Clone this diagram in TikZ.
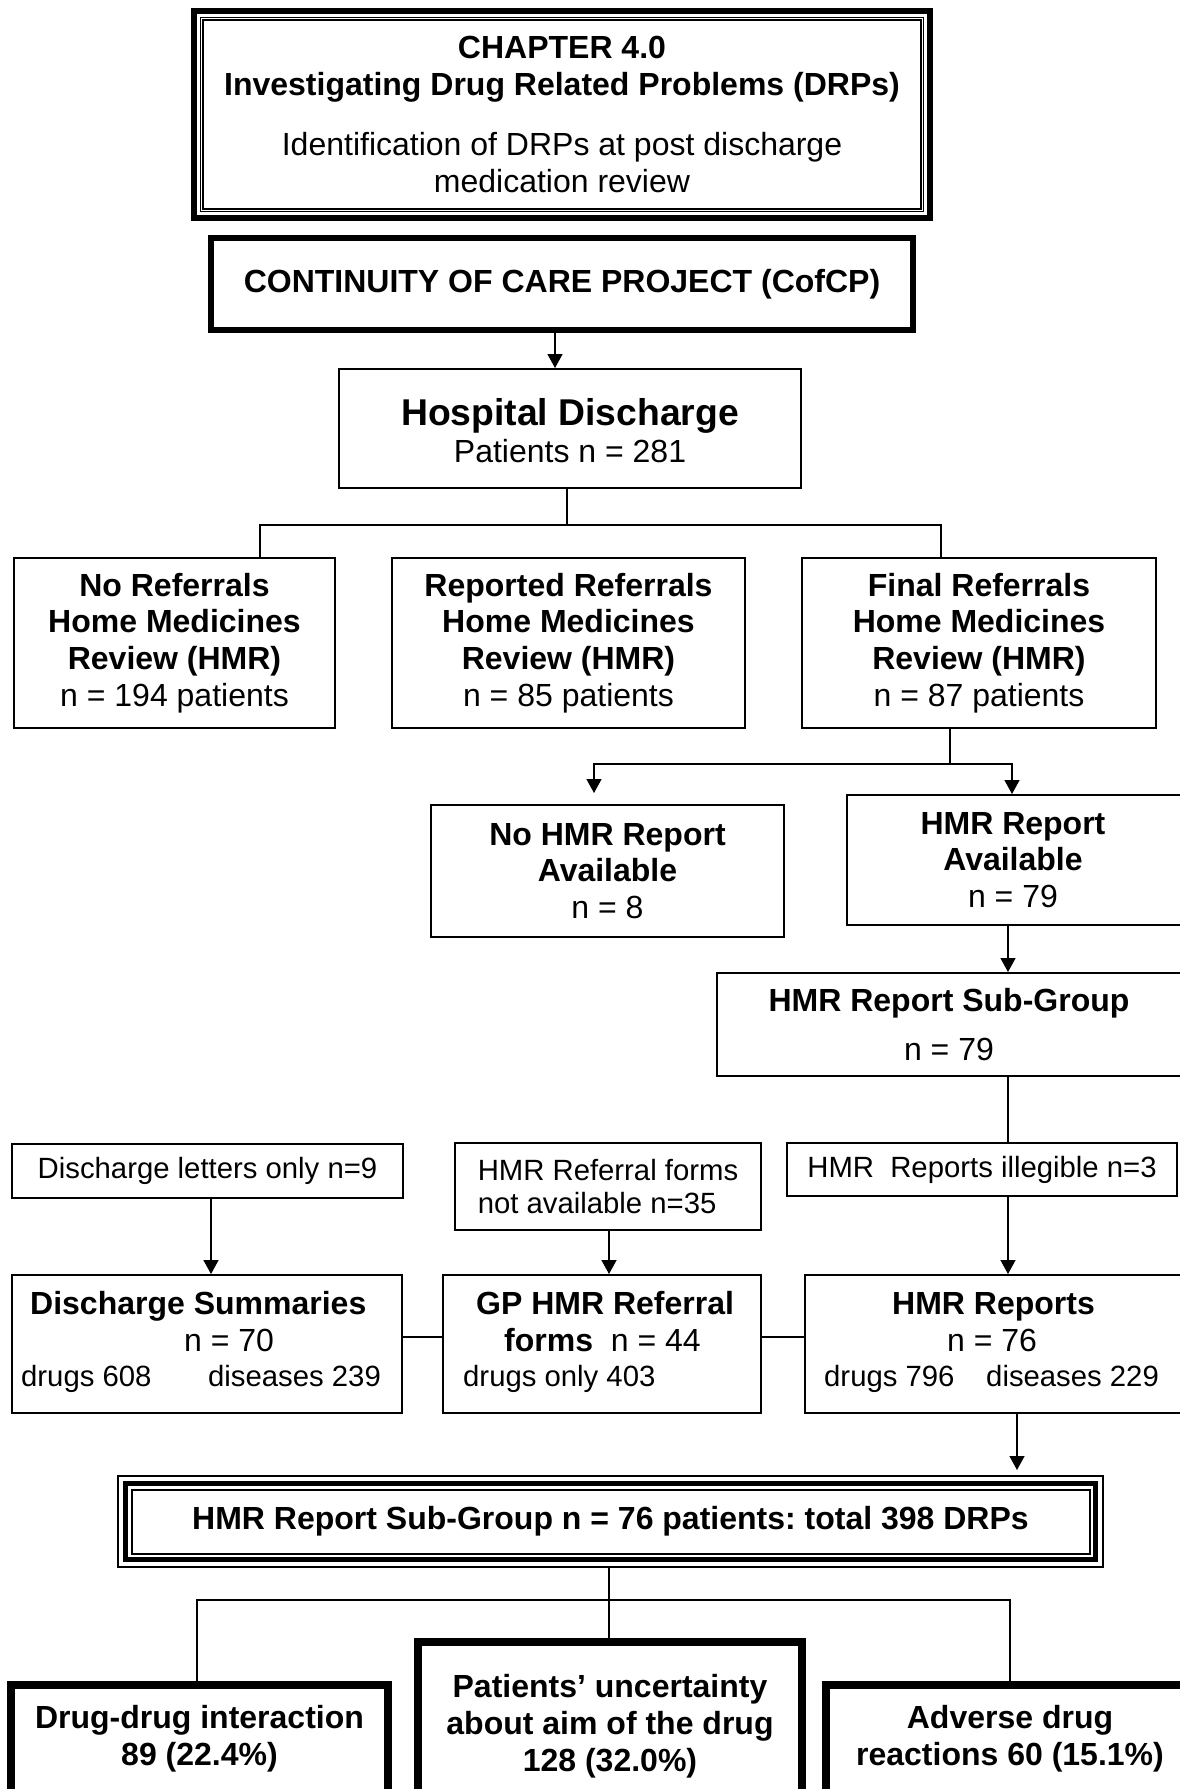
\documentclass[tikz,border=0pt]{standalone}
\usepackage{fontspec}
\setmainfont{Liberation Sans}
\usetikzlibrary{arrows.meta}
\frenchspacing
\newcommand\szN{\fontsize{32}{36.8}\selectfont}
\newcommand\szL{\fontsize{37.3}{42.9}\selectfont}
\newcommand\szS{\fontsize{29.3}{33.7}\selectfont}
\begin{document}
\begin{tikzpicture}[x=1pt,y=-1pt,
  every node/.style={inner sep=0pt},
  box/.style={draw, line width=1.6pt, align=center, font=\szN},
  heavybox/.style={draw, line width=8pt, align=center, font=\szN\bfseries},
  txt/.style={anchor=base west},
  conn/.style={line width=1.4pt},
  arr/.style={conn, -{Triangle[length=14pt,width=15pt]}},
]
\useasboundingbox (0,0) rectangle (1180,1789);
\clip (0,0) rectangle (1180,1789);
\fill[white] (0,0) rectangle (1180,1789);

% x positions of the vertical connectors
\coordinate (a197) at (197,0);
\coordinate (a211) at (211,0);
\coordinate (a260) at (260,0);
\coordinate (a555) at (555,0);
\coordinate (a567) at (567,0);
\coordinate (a594) at (594,0);
\coordinate (a609) at (609,0);
\coordinate (a941) at (941,0);
\coordinate (a950) at (950,0);
\coordinate (a1008) at (1008,0);
\coordinate (a1010) at (1010,0);
\coordinate (a1012) at (1012,0);
\coordinate (a1017) at (1017,0);
% junction points
\coordinate (h525) at (567,525);
\coordinate (j764) at (950,764);
\coordinate (m1337) at (0,1337);
\coordinate (k1600) at (609,1600);

% chapter heading frame
\node[draw, line width=6pt, minimum width=736pt, minimum height=207pt,
      align=center, font=\szN] (chap) at (562,114.5)
  {\textbf{CHAPTER 4.0}\\\textbf{Investigating Drug Related Problems (DRPs)}\\[24pt]
   Identification of DRPs at post discharge\\medication review};
\draw[line width=1.2pt, double, double distance=1.3pt]
  ([shift={(10.75,10.75)}]chap.north west) rectangle ([shift={(-10.75,-10.75)}]chap.south east);

% project
\node[draw, line width=6pt, minimum width=702pt, minimum height=92pt,
      font=\szN\bfseries] (cofcp) at (562,284) {CONTINUITY OF CARE PROJECT (CofCP)};

\node[box, minimum width=462.4pt, minimum height=119.4pt] (hosp) at (570,428.5) {};
\node[align=center, font=\szN] (hospt) at (570,431)
  {{\szL\bfseries Hospital Discharge}\\Patients n = 281};

% referral groups
\node[box, minimum width=321.4pt, minimum height=170.4pt] (noref) at (174.5,643)
  {\textbf{No Referrals}\\\textbf{Home Medicines}\\\textbf{Review (HMR)}\\n = 194 patients};
\node[box, minimum width=353.4pt, minimum height=170.4pt] (repref) at (568.5,643)
  {\textbf{Reported Referrals}\\\textbf{Home Medicines}\\\textbf{Review (HMR)}\\n = 85 patients};
\node[box, minimum width=354.4pt, minimum height=170.4pt] (finref) at (979,643)
  {\textbf{Final Referrals}\\\textbf{Home Medicines}\\\textbf{Review (HMR)}\\n = 87 patients};

\node[box, minimum width=353.4pt, minimum height=132.4pt] (nohmr) at (607.5,871)
  {\textbf{No HMR Report}\\\textbf{Available}\\n = 8};
\node[box, minimum width=352.4pt, minimum height=130.4pt] (hmravail) at (1023,860) {};
\node[align=center, font=\szN] (hmravailt) at (1013,860)
  {\textbf{HMR Report}\\\textbf{Available}\\n = 79};

\node[box, minimum width=482.4pt, minimum height=103.4pt] (subgroup) at (958,1024.5) {};
\node[align=center, font=\szN] (subgroupt) at (949,1024.5)
  {\textbf{HMR Report Sub-Group}\\[12pt]n = 79};

% exclusions
\node[box, font=\szS, minimum width=391.4pt, minimum height=54.4pt] (dletters) at (207.5,1171)
  {Discharge letters only n=9};
\node[box, font=\szS, align=left, minimum width=306.4pt, minimum height=87.4pt] (hmrref) at (608,1186.5)
  {HMR Referral forms\\not available n=35};
\node[box, font=\szS, minimum width=390.4pt, minimum height=53.4pt] (illeg) at (982,1169.5)
  {HMR\ \ Reports illegible n=3};

% data sources
\node[box, minimum width=390.4pt, minimum height=138.4pt] (dsum) at (207,1344) {};
\node[box, minimum width=318.4pt, minimum height=138.4pt] (gpref) at (602,1344) {};
\node[box, minimum width=394.4pt, minimum height=138.4pt] (hmrrep) at (1002,1344) {};

\node[txt, font=\szN\bfseries] (dsumt) at (30,1314) {Discharge Summaries};
\node[txt, font=\szN] (dsumn) at (184,1351) {n = 70};
\node[txt, font=\szS] (dsumd) at (21,1386) {drugs 608};
\node[txt, font=\szS] (dsumx) at (208,1386) {diseases 239};

\node[txt, font=\szN\bfseries] (gpreft) at (476,1314) {GP HMR Referral};
\node[txt, font=\szN] (gprefn) at (504,1351) {\textbf{forms}\ \ n = 44};
\node[txt, font=\szS] (gprefd) at (463,1386) {drugs only 403};

\node[txt, font=\szN\bfseries] (hmrrept) at (892,1314) {HMR Reports};
\node[txt, font=\szN] (hmrrepn) at (947,1351) {n = 76};
\node[txt, font=\szS] (hmrrepd) at (824,1386) {drugs 796};
\node[txt, font=\szS] (hmrrepx) at (986,1386) {diseases 229};

% DRP summary frame
\node[draw, line width=1.7pt, minimum width=985.3pt, minimum height=91.3pt,
      font=\szN\bfseries] (big) at (610.5,1521.5)
  {HMR Report Sub-Group n = 76 patients: total 398 DRPs};
\draw[line width=5pt] ([shift={(8.3,8.3)}]big.north west) rectangle ([shift={(-8.3,-8.3)}]big.south east);
\draw[line width=2pt] ([shift={(14.5,14.5)}]big.north west) rectangle ([shift={(-14.5,-14.5)}]big.south east);

% DRP categories
\node[heavybox, minimum width=377pt, minimum height=108pt] (ddi) at (199.5,1739)
  {Drug-drug interaction\\89 (22.4\%)};
\node[heavybox, minimum width=384pt, minimum height=168pt] (pu) at (610,1726)
  {Patients’ uncertainty\\about aim of the drug\\128 (32.0\%)};
\node[heavybox, minimum width=368pt, minimum height=108pt] (adr) at (1010,1739)
  {Adverse drug\\reactions 60 (15.1\%)};

% connectors
\draw[arr] (cofcp.south -| a555) -- (hosp.north -| a555);
\draw[conn] (hosp.south -| a567) -- (h525);
\draw[conn] (noref.north -| a260) |- (h525) -| (finref.north -| a941);
\draw[conn] (finref.south -| a950) -- (j764);
\draw[arr, shorten >=11pt] (j764) -| (nohmr.north -| a594);
\draw[arr] (j764) -| (hmravail.north -| a1012);
\draw[arr] (hmravail.south -| a1008) -- (subgroup.north -| a1008);
\draw[conn] (subgroup.south -| a1008) -- (illeg.north -| a1008);
\draw[arr] (illeg.south -| a1008) -- (hmrrep.north -| a1008);
\draw[arr] (dletters.south -| a211) -- (dsum.north -| a211);
\draw[arr] (hmrref.south -| a609) -- (gpref.north -| a609);
\draw[conn] (dsum.east |- m1337) -- (gpref.west |- m1337);
\draw[conn] (gpref.east |- m1337) -- (hmrrep.west |- m1337);
\draw[arr, shorten >=5pt] (hmrrep.south -| a1017) -- (big.north -| a1017);
\draw[conn] (big.south -| a609) -- (pu.north -| a609);
\draw[conn] (ddi.north -| a197) |- (k1600) -| (adr.north -| a1010);
\end{tikzpicture}
\end{document}
